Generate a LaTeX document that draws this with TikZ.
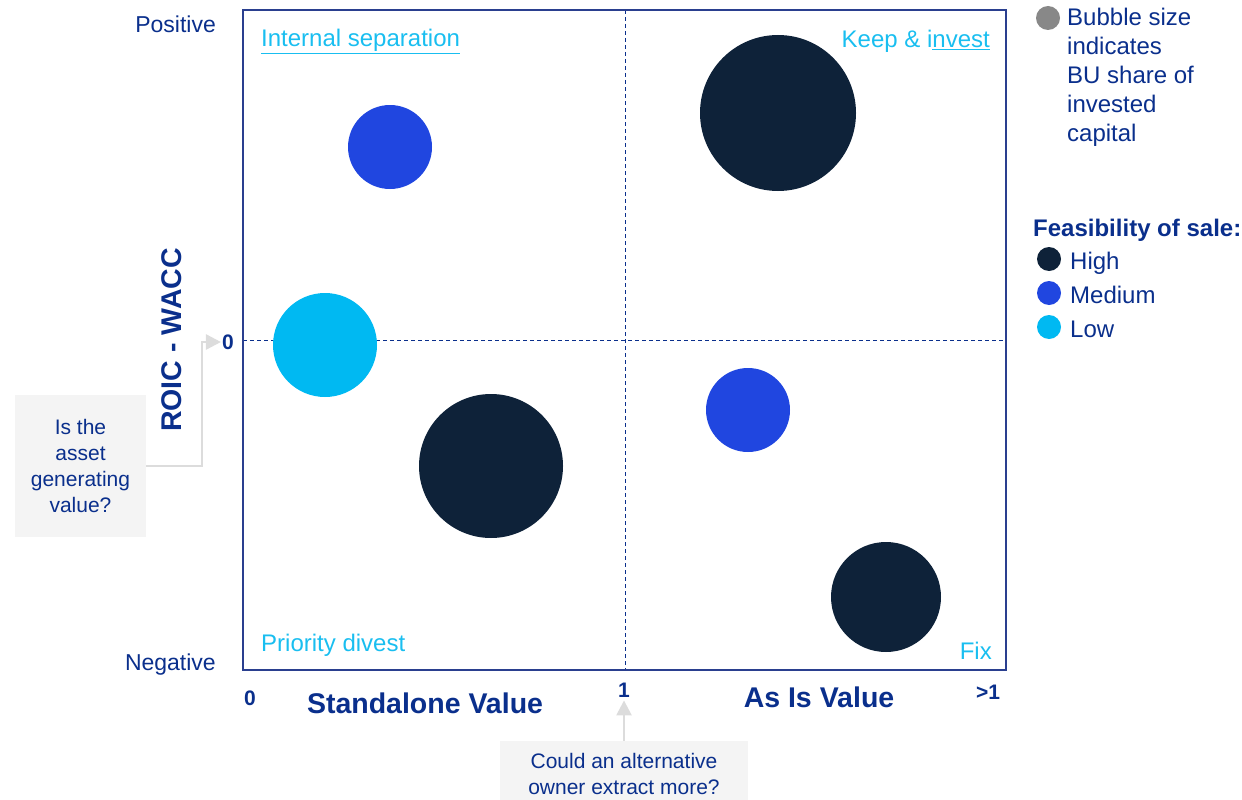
\documentclass[tikz,border=0pt]{standalone}
\usepackage{fontspec}
\setmainfont{Liberation Sans}
\usetikzlibrary{arrows.meta}
\definecolor{navy}{HTML}{0A2F8C}
\definecolor{quadcyan}{HTML}{19BEF0}
\definecolor{high}{HTML}{0E2239}
\definecolor{medium}{HTML}{2046E0}
\definecolor{low}{HTML}{00B9F2}
\definecolor{framecol}{HTML}{2A3F8F}
\definecolor{askgray}{HTML}{F4F4F4}
\definecolor{linegray}{HTML}{DCDCDC}
\definecolor{keygray}{HTML}{888888}

\begin{document}
\begin{tikzpicture}[x=1pt, y=-1pt, >={Triangle[length=15pt,width=15pt]},
    txt/.style={ text=navy, inner sep=0pt, font=\fontsize{23}{28}\selectfont },
    axis/.style={ text=navy, inner sep=0pt,
      font=\fontsize{28.5}{32}\selectfont\bfseries },
    tick/.style={ text=navy, inner sep=0pt,
      font=\fontsize{21}{24}\selectfont\bfseries },
    quad/.style={ text=quadcyan, inner sep=0pt,
      font=\fontsize{24}{28}\selectfont },
    bubble/.style={ circle, inner sep=0pt, minimum size=#1 },
    ask/.style={ fill=askgray, text=navy, align=center, inner sep=0pt,
      font=\fontsize{21}{26}\selectfont },
    callout/.style={ ->, draw=linegray, line width=2.5pt },
    key/.style={ text=navy, inner sep=0pt, align=left,
      font=\fontsize{24}{29}\selectfont } ]
  \useasboundingbox (0,0) rectangle (1242,800);

  % quadrant frame
  \coordinate (tl) at (243,10);
  \coordinate (br) at (1006,670);
  \draw[dashed, navy, line width=1pt, dash pattern=on 4pt off 3pt]
    (625,10) -- (625,670) (243,340) -- (1006,340);
  \draw[framecol, line width=1.3pt] (tl) rectangle (br);

  % bubbles
  \foreach \x/\y/\d/\c/\n in {390/147/84/medium/a,778/113/156/high/b,
    325/345/104/low/c,491/466/144/high/d,748/410/84/medium/e,
    886/597/110/high/f}
  \node[bubble=\d, fill=\c] (bub\n) at (\x,\y) {};

  % quadrant labels
  \node[quad, anchor=base west] (intsep) at (261,47)
    {\underline{Internal separation}};
  \node[quad, anchor=base east] (keep) at (990,48)
    {Keep \& i\underline{nvest}};
  \node[quad, anchor=base west] (divest) at (261,651) {Priority divest};
  \node[quad, anchor=base east] (fix) at (992,659) {Fix};

  % axes
  \node[txt, anchor=base east] (pos) at (216,33) {Positive};
  \node[txt, anchor=base east] (neg) at (216,670) {Negative};
  \node[axis, rotate=90] (roic) at (172,340) {ROIC - WACC};
  \node[tick] (zero) at (228,342) {0};
  \node[tick] (xzero) at (250,698) {0};
  \node[tick] (one) at (624,690) {1};
  \node[tick] (more) at (988,692) {>1};
  \node[axis] (stand) at (425,703) {Standalone Value};
  \node[axis] (asis) at (819,697) {As Is Value};

  % questions
  \node[ask, minimum width=131pt, minimum height=142pt] (q1) at (80.5,466)
    {Is the\\asset\\generating\\value?};
  \node[ask, minimum width=248pt, minimum height=66pt] (q2) at (624,774)
    {Could an alternative\\owner extract more?};
  \draw[callout] (q1.east) -- ++(56,0) |- ([xshift=-1pt]zero.west);
  \draw[callout, shorten >=3pt] (q2.north -| one.south) -- (one.south);

  % legend
  \node[bubble=24pt, fill=keygray] (size) at (1048,18) {};
  \node[key, anchor=north west] (sizetxt) at (1067,8)
    {Bubble size\\indicates\\BU share of\\invested\\capital};
  \node[key, anchor=base west, font=\fontsize{24}{29}\selectfont\bfseries]
    (feas) at (1033,236) {Feasibility of sale:};
  \foreach \y/\c/\l in {259/high/High,293/medium/Medium,327/low/Low} {
    \node[bubble=24pt, fill=\c] (key\l) at (1049,\y) {};
    \node[key, anchor=base west] (lbl\l) at (1070,\y+10) {\l};
  }
\end{tikzpicture}
\end{document}
